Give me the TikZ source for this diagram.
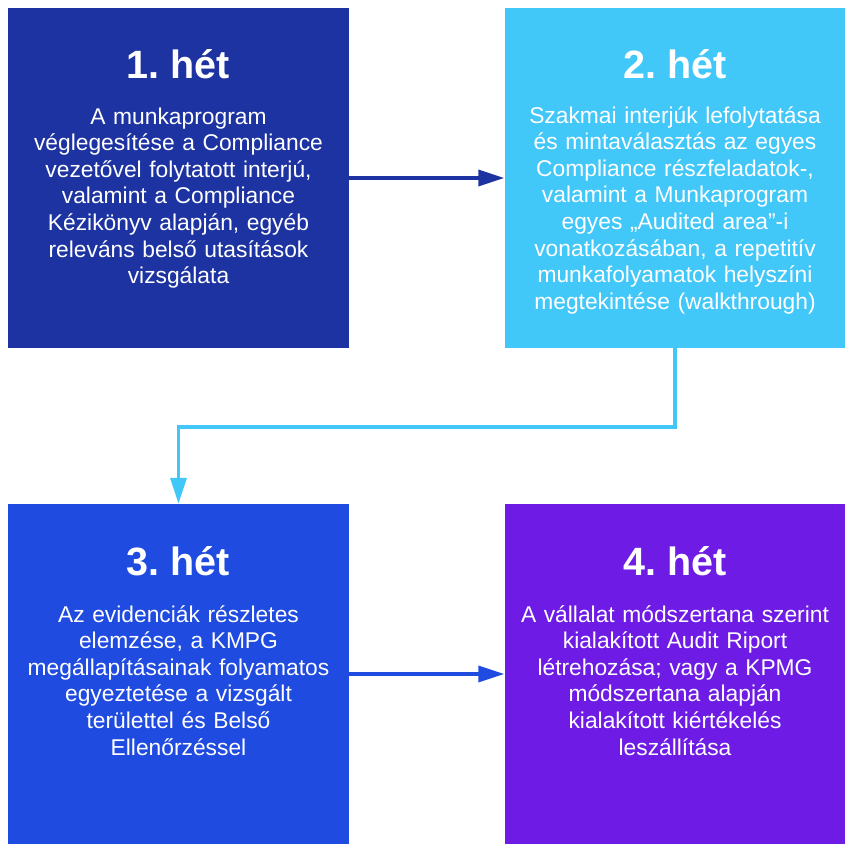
\documentclass[tikz,border=0pt]{standalone}
\usepackage{fontspec}
\setmainfont{Liberation Sans}
\usetikzlibrary{arrows.meta}
\frenchspacing
\definecolor{cone}{HTML}{1D33A1}
\definecolor{ctwo}{HTML}{42C7F9}
\definecolor{cthree}{HTML}{1F4BE0}
\definecolor{cfour}{HTML}{6E1BE6}
\tikzset{
  box/.style={rectangle, draw=none, minimum width=341pt, minimum height=340pt, inner sep=0pt},
  ttl/.style={anchor=base, text=white, font=\bfseries\fontsize{39.5}{44}\selectfont, inner sep=0pt},
  bdy/.style={anchor=base, text=white, text width=338pt, align=center, font=\fontsize{22.8}{26.6}\selectfont, inner sep=0pt},
  conn/.style={line width=3.5pt, -{Triangle[length=26pt,width=16pt]}}
}
\begin{document}
\begin{tikzpicture}[x=1pt,y=-1pt]
\useasboundingbox (0,0) rectangle (845,843);
\node[box, fill=cone] (b1) at (178.5,178) {};
\node[box, fill=ctwo] (b2) at (675,178) {};
\node[box, fill=cthree] (b3) at (178.5,674) {};
\node[box, fill=cfour] (b4) at (675,674) {};

\node[ttl] (t1) at (178.5,78) {1. hét};
\node[ttl] (t2) at (675,78) {2. hét};
\node[ttl] (t3) at (178.5,575) {3. hét};
\node[ttl] (t4) at (675,575) {4. hét};

\node[bdy] (x1) at (178.5,124) {A munkaprogram\\véglegesítése a Compliance\\vezetővel folytatott interjú,\\valamint a Compliance\\Kézikönyv alapján, egyéb\\releváns belső utasítások\\vizsgálata};
\node[bdy] (x2) at (675,123) {Szakmai interjúk lefolytatása\\és mintaválasztás az egyes\\Compliance részfeladatok-,\\valamint a Munkaprogram\\egyes „Audited area”-i\\vonatkozásában, a repetitív\\munkafolyamatok helyszíni\\megtekintése (walkthrough)};
\node[bdy] (x3) at (178.5,622) {Az evidenciák részletes\\elemzése, a KMPG\\megállapításainak folyamatos\\egyeztetése a vizsgált\\területtel és Belső\\Ellenőrzéssel};
\node[bdy] (x4) at (675,622) {A vállalat módszertana szerint\\kialakított Audit Riport\\létrehozása; vagy a KPMG\\módszertana alapján\\kialakított kiértékelés\\leszállítása};

\draw[conn, cone] (b1.east) -- (b2.west);
\draw[conn, ctwo] (b2.south) -- ++(0,79) -| (b3.north);
\draw[conn, cthree] (b3.east) -- (b4.west);
\end{tikzpicture}
\end{document}
